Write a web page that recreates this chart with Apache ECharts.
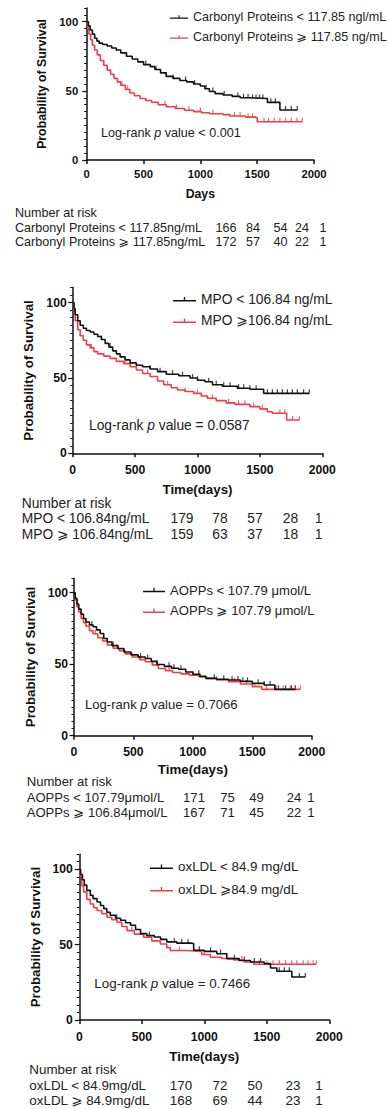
<!DOCTYPE html>
<html>
<head>
<meta charset="utf-8">
<script src="https://cdn.jsdelivr.net/npm/echarts@6/dist/echarts.min.js"></script>
<style>
  html, body { margin: 0; padding: 0; background: #fff; }
  #chart { width: 387px; height: 1109px; }
</style>
</head>
<body>
<div id="chart"></div>
<script>
// ===== Data =====
const xTicks = [0, 500, 1000, 1500, 2000]
const yMajorTicks = [0, 50, 100]

// Panel 1: Carbonyl Proteins
const carbLowName = 'Carbonyl Proteins < 117.85 ngl/mL'
const carbHighName = 'Carbonyl Proteins ⩾ 117.85 ng/mL'
const carbLow = [[0,100],[15,97],[30,94],[50,91],[70,88],[90,86],[110,84.5],[140,83.5],[180,82.5],[220,81],[260,79.5],[300,77.5],[350,75],[400,73],[450,71],[500,69],[560,67.5],[600,65.5],[650,63],[700,60.5],[760,59],[820,57.5],[880,56.5],[940,55],[1000,53.5],[1040,51.5],[1080,49.5],[1130,48],[1200,47],[1280,46],[1350,45],[1430,44.5],[1590,41.7],[1700,36.2],[1853,36.2]]
const carbHigh = [[0,100],[10,95],[20,91],[35,87],[50,83],[70,79.5],[93,76],[120,72],[150,68.5],[180,65],[210,62],[240,59],[270,56.5],[300,54],[340,51],[380,48.5],[420,46.5],[470,44.5],[520,43],[570,41.8],[630,40],[700,38.5],[780,37.2],[860,36],[940,35],[1010,34.2],[1080,33.5],[1200,32.8],[1260,31.8],[1400,31],[1490,30.5],[1500,27.7],[1897,27.7]]
const carbLowCens = [520, 610, 700, 760, 870, 950, 1050, 1110, 1210, 1330, 1380, 1420, 1460, 1490, 1520, 1550, 1620, 1660, 1750, 1800, 1853]
const carbHighCens = [310, 360, 690, 790, 900, 1000, 1110, 1300, 1350, 1420, 1460, 1560, 1600, 1650, 1700, 1750, 1800, 1850, 1897]
const carbRiskLow = [166, 84, 54, 24, 1]
const carbRiskHigh = [172, 57, 40, 22, 1]
const carbRiskLabels = ['Carbonyl Proteins < 117.85ng/mL', 'Carbonyl Proteins ⩾ 117.85ng/mL']

// Panel 2: MPO
const mpoLowName = 'MPO < 106.84 ng/mL'
const mpoHighName = 'MPO ⩾106.84 ng/mL'
const mpoLow = [[0,100],[10,96],[20,92],[40,88],[60,85],[85,83],[110,81.5],[140,80.5],[170,79],[200,77.5],[230,75.5],[260,73],[290,70.5],[320,68],[350,66],[380,64],[420,62],[460,60],[510,58.5],[560,57.5],[620,56],[680,54.2],[750,52.5],[850,51.5],[940,50],[1000,48.5],[1060,47.5],[1120,45.5],[1200,44.5],[1320,43.2],[1420,42.5],[1530,39.8],[1896,39.8]]
const mpoHigh = [[0,100],[8,95],[20,88],[40,82],[60,78],[85,75],[110,72],[140,70],[170,67.5],[200,66],[250,64.5],[300,63],[350,61],[410,59.5],[460,57.5],[510,55.3],[560,53],[620,51],[680,48],[730,45.5],[790,43.5],[840,42],[900,41],[970,39.8],[1030,38],[1080,36.5],[1150,35],[1230,33.5],[1300,32.5],[1420,31],[1500,29.5],[1560,27.6],[1600,26.6],[1714,22.1],[1816,22.1]]
const mpoLowCens = [230, 300, 620, 700, 800, 880, 960, 1000, 1090, 1150, 1210, 1260, 1330, 1370, 1420, 1470, 1560, 1600, 1640, 1680, 1720, 1760, 1800, 1850, 1896]
const mpoHighCens = [150, 420, 600, 760, 900, 1000, 1120, 1250, 1330, 1380, 1450, 1520, 1660, 1700, 1760, 1816]
const mpoRiskLow = [179, 78, 57, 28, 1]
const mpoRiskHigh = [159, 63, 37, 18, 1]
const mpoRiskLabels = ['MPO < 106.84ng/mL', 'MPO ⩾ 106.84ng/mL']

// Panel 3: AOPPs
const aoppLowName = 'AOPPs < 107.79 μmol/L'
const aoppHighName = 'AOPPs ⩾ 107.79 μmol/L'
const aoppLow = [[0,100],[10,96],[25,92],[40,88.5],[60,85],[80,82],[100,79.5],[130,77.5],[160,76.2],[190,74],[220,71.5],[250,68],[280,65.5],[320,63],[370,61],[420,58.5],[480,56.5],[540,55],[600,54],[650,52],[700,49.8],[760,48.5],[820,47.2],[880,46.5],[940,44.5],[1000,43],[1060,41.5],[1110,40.1],[1200,39.5],[1300,39],[1400,38],[1500,36.6],[1600,35.5],[1690,32.4],[1862,32.4]]
const aoppHigh = [[0,100],[10,95],[25,90],[40,86.5],[60,82],[80,79],[100,76.5],[130,73.5],[160,71.3],[200,68.5],[240,66.2],[280,63.5],[330,61.2],[380,59.5],[430,57.2],[490,55],[550,53.2],[600,51.7],[660,49.5],[710,47],[770,45.5],[830,44.2],[900,43.2],[970,42.3],[1050,41.2],[1110,40.1],[1200,39],[1300,37.8],[1400,36.2],[1500,34.3],[1580,32.4],[1904,32.4]]
const aoppLowCens = [150, 330, 560, 620, 700, 800, 840, 900, 1050, 1180, 1260, 1330, 1380, 1420, 1460, 1550, 1600, 1650, 1720, 1780, 1830, 1862]
const aoppHighCens = [180, 360, 560, 700, 800, 1000, 1200, 1350, 1450, 1520, 1620, 1700, 1760, 1820, 1904]
const aoppRiskLow = [171, 75, 49, 24, 1]
const aoppRiskHigh = [167, 71, 45, 22, 1]
const aoppRiskLabels = ['AOPPs < 107.79μmol/L', 'AOPPs ⩾ 106.84μmol/L']

// Panel 4: oxLDL
const oxLowName = 'oxLDL < 84.9 mg/dL'
const oxHighName = 'oxLDL ⩾84.9 mg/dL'
const oxLow = [[0,100],[10,96.5],[25,93],[40,89.5],[60,86],[88,82.7],[110,80.5],[142,78.3],[170,76],[195,73.9],[220,71.5],[248,69.5],[290,67.5],[330,66.2],[370,64.5],[410,62.9],[450,60],[490,57.3],[540,56],[600,55.1],[650,53.5],[700,51.8],[780,51],[890,50.7],[915,46.3],[1000,45.5],[1100,44],[1180,40.7],[1280,39.5],[1370,38.5],[1480,37.4],[1530,34.5],[1580,32.3],[1700,28.5],[1808,28.5]]
const oxHigh = [[0,100],[8,95],[20,89],[35,85],[60,80],[88,77],[115,74.5],[142,72.6],[180,70.5],[222,68.2],[260,66.5],[302,64.9],[340,62],[382,59.3],[440,57],[515,54.9],[580,52.5],[648,50.4],[700,48],[728,46.1],[850,45.8],[915,45.4],[980,43.5],[1048,41.6],[1140,40.8],[1235,39.8],[1320,38.5],[1395,37],[1896,37]]
const oxLowCens = [300, 560, 760, 820, 870, 960, 1050, 1130, 1240, 1320, 1400, 1450, 1600, 1640, 1680, 1760, 1808]
const oxHighCens = [420, 800, 1000, 1300, 1440, 1500, 1550, 1600, 1650, 1700, 1740, 1790, 1830, 1870, 1896]
const oxRiskLow = [170, 72, 50, 23, 1]
const oxRiskHigh = [168, 69, 44, 23, 1]
const oxRiskLabels = ['oxLDL < 84.9mg/dL', 'oxLDL ⩾ 84.9mg/dL']

const pValues = ['< 0.001', '= 0.0587', '= 0.7066', '= 0.7466']
const xNames = ['Days', 'Time(days)', 'Time(days)', 'Time(days)']

// ===== Layout / styles =====
const FONT = '"Liberation Sans", Arial, "DejaVu Sans", sans-serif'
const BLACK = '#111111'
const TEXT = '#222222'
const RED = '#ef3e45'
const LEGEND_ICON = 'path://M0,4.2H24V5.8H0Z M11.3,1H12.7V4.6H11.3Z'

const panels = [
  {
    grid: { left: 86.7, top: 7.9, width: 227.3, height: 152.1 },
    low: carbLow, high: carbHigh, lowName: carbLowName, highName: carbHighName,
    lowCens: carbLowCens, highCens: carbHighCens,
    riskLow: carbRiskLow, riskHigh: carbRiskHigh, riskLabels: carbRiskLabels,
    fs: 12.6, tickFs: 11.3, nameFs: 12.3, yGap: 37, xGap: 28, yLabelMargin: 8.5, xLabelMargin: 8.5,
    legend: { left: 170, top: 9.5, iconW: 18, gap: 5, lh: 15 },
    logrank: { x: 101, y: 133 },
    risk: { x: 15, y: [213, 228, 242], cols: [226, 253, 280.5, 302, 323] },
  },
  {
    grid: { left: 72.7, top: 287.6, width: 249.6, height: 165.7 },
    low: mpoLow, high: mpoHigh, lowName: mpoLowName, highName: mpoHighName,
    lowCens: mpoLowCens, highCens: mpoHighCens,
    riskLow: mpoRiskLow, riskHigh: mpoRiskHigh, riskLabels: mpoRiskLabels,
    fs: 13.8, tickFs: 12.2, nameFs: 13.3, yGap: 36, xGap: 30, yLabelMargin: 6, xLabelMargin: 10.6,
    legend: { left: 173, top: 291.3, iconW: 23, gap: 5.4, lh: 16 },
    logrank: { x: 89, y: 425.7 },
    risk: { x: 21.7, y: [503, 518.5, 534], cols: [182, 220, 255, 290.5, 318.7] },
  },
  {
    grid: { left: 74, top: 578.4, width: 237.7, height: 157.3 },
    low: aoppLow, high: aoppHigh, lowName: aoppLowName, highName: aoppHighName,
    lowCens: aoppLowCens, highCens: aoppHighCens,
    riskLow: aoppRiskLow, riskHigh: aoppRiskHigh, riskLabels: aoppRiskLabels,
    fs: 13.1, tickFs: 12.2, nameFs: 13.3, yGap: 31.5, xGap: 27.6, yLabelMargin: 6, xLabelMargin: 10.2,
    legend: { left: 143, top: 582, iconW: 22, gap: 4.7, lh: 16 },
    logrank: { x: 85, y: 704 },
    risk: { x: 26.7, y: [781.7, 797.3, 812.7], cols: [194, 227.5, 256.5, 294, 311] },
  },
  {
    grid: { left: 79.3, top: 854.2, width: 250, height: 165.8 },
    low: oxLow, high: oxHigh, lowName: oxLowName, highName: oxHighName,
    lowCens: oxLowCens, highCens: oxHighCens,
    riskLow: oxRiskLow, riskHigh: oxRiskHigh, riskLabels: oxRiskLabels,
    fs: 13.4, tickFs: 12.2, nameFs: 13.3, yGap: 35, xGap: 30, yLabelMargin: 6.5, xLabelMargin: 10.6,
    legend: { left: 150, top: 858.7, iconW: 23, gap: 6.6, lh: 16 },
    logrank: { x: 94.3, y: 983.3 },
    risk: { x: 29.3, y: [1069, 1085, 1100], cols: [181, 220, 255, 293, 319] },
  },
]

// 查阶梯函数在某一天的生存率（删失标记放到曲线上）
function survAt(curve, t) {
  let v = curve[0][1]
  for (const p of curve) {
    if (p[0] <= t) v = p[1]
    else break
  }
  return v
}

const grids = []
const xAxes = []
const yAxes = []
const yMajorAxes = []
const series = []
const legends = []
const graphics = []

panels.forEach((p, i) => {
  grids.push({ ...p.grid, containLabel: false })

  xAxes.push({
    gridIndex: i,
    type: 'value',
    min: xTicks[0],
    max: xTicks[xTicks.length - 1],
    interval: 500,
    name: xNames[i],
    nameLocation: 'middle',
    nameGap: p.xGap,
    nameTextStyle: { fontFamily: FONT, fontSize: p.nameFs, fontWeight: 'bold', color: BLACK },
    axisLine: { show: true, lineStyle: { color: BLACK, width: 1.5 } },
    axisTick: { show: true, length: 4, lineStyle: { color: BLACK, width: 1.5 } },
    axisLabel: {
      fontFamily: FONT, fontSize: p.tickFs, fontWeight: 'bold', color: BLACK,
      margin: p.xLabelMargin,
      formatter: (v) => String(v),
    },
    splitLine: { show: false },
  })

  // 主 y 轴：每 5 一个短刻度
  yAxes.push({
    gridIndex: i,
    type: 'value',
    position: 'left',
    min: 0,
    max: 110,
    interval: 5,
    name: 'Probability of Survival',
    nameLocation: 'middle',
    nameGap: p.yGap,
    nameTextStyle: { fontFamily: FONT, fontSize: p.nameFs, fontWeight: 'bold', color: BLACK },
    axisLine: { show: true, lineStyle: { color: BLACK, width: 1.5 } },
    axisTick: { show: true, length: 2.5, lineStyle: { color: BLACK, width: 1 } },
    axisLabel: {
      interval: 0,
      fontFamily: FONT,
      fontSize: p.tickFs,
      fontWeight: 'bold',
      color: BLACK,
      margin: p.yLabelMargin,
      formatter: (v) => (yMajorTicks.includes(v) ? String(v) : ''),
    },
    splitLine: { show: false },
  })

  // 辅助 y 轴：只画 0/50/100 的长刻度
  yMajorAxes.push({
    gridIndex: i,
    type: 'value',
    position: 'left',
    min: 0,
    max: 110,
    interval: 50,
    axisLine: { show: false },
    axisTick: { show: true, length: 4.5, customValues: yMajorTicks, lineStyle: { color: BLACK, width: 1.2 } },
    axisLabel: { show: false },
    splitLine: { show: false },
  })

  const groups = [
    { name: p.lowName, data: p.low, cens: p.lowCens, color: BLACK },
    { name: p.highName, data: p.high, cens: p.highCens, color: RED },
  ]
  // 先画红线再画黑线，保持黑线在上层
  groups.slice().reverse().forEach((g) => {
    series.push({
      name: g.name,
      type: 'line',
      xAxisIndex: i,
      yAxisIndex: i,
      step: 'end',
      showSymbol: false,
      symbol: 'none',
      data: g.data,
      lineStyle: { color: g.color, width: 1.6 },
      itemStyle: { color: g.color },
      animation: false,
      silent: true,
    })
    series.push({
      name: g.name + ' censored',
      type: 'scatter',
      xAxisIndex: i,
      yAxisIndex: i,
      symbol: 'rect',
      symbolSize: [1.2, 4],
      symbolOffset: [0, -2],
      data: g.cens.map((t) => [t, survAt(g.data, t)]),
      itemStyle: { color: g.color },
      animation: false,
      silent: true,
    })
  })

  legends.push({
    orient: 'vertical',
    left: p.legend.left,
    top: p.legend.top,
    padding: 0,
    itemGap: p.legend.gap,
    itemWidth: p.legend.iconW,
    itemHeight: 9,
    icon: LEGEND_ICON,
    selectedMode: false,
    data: [
      { name: p.lowName, itemStyle: { color: BLACK } },
      { name: p.highName, itemStyle: { color: RED } },
    ],
    textStyle: { fontFamily: FONT, fontSize: p.fs, color: TEXT, lineHeight: p.legend.lh },
  })

  // Log-rank 文本
  graphics.push({
    type: 'text',
    x: p.logrank.x,
    y: p.logrank.y,
    style: {
      text: 'Log-rank {i|p} value ' + pValues[i],
      rich: { i: { fontStyle: 'italic', fontFamily: FONT, fontSize: p.fs, fill: TEXT } },
      fontFamily: FONT,
      fontSize: p.fs,
      fill: TEXT,
      textAlign: 'left',
      textVerticalAlign: 'middle',
      align: 'left',
      verticalAlign: 'middle',
    },
  })

  // Number at risk 表格
  const textEl = (text, x, y, align) => ({
    type: 'text',
    x,
    y,
    style: {
      text,
      fontFamily: FONT,
      fontSize: p.fs,
      fill: TEXT,
      textAlign: align,
      textVerticalAlign: 'middle',
      align,
      verticalAlign: 'middle',
    },
  })
  graphics.push(textEl('Number at risk', p.risk.x, p.risk.y[0], 'left'))
  graphics.push(textEl(p.riskLabels[0], p.risk.x, p.risk.y[1], 'left'))
  graphics.push(textEl(p.riskLabels[1], p.risk.x, p.risk.y[2], 'left'))
  p.risk.cols.forEach((cx, k) => {
    graphics.push(textEl(String(p.riskLow[k]), cx, p.risk.y[1], 'center'))
    graphics.push(textEl(String(p.riskHigh[k]), cx, p.risk.y[2], 'center'))
  })
})

const chart = echarts.init(document.getElementById('chart'), null, { renderer: 'svg' })
chart.setOption({
  animation: false,
  backgroundColor: '#fff',
  grid: grids,
  xAxis: xAxes,
  yAxis: yAxes.concat(yMajorAxes),
  legend: legends,
  series,
  graphic: graphics,
})
</script>
</body>
</html>
